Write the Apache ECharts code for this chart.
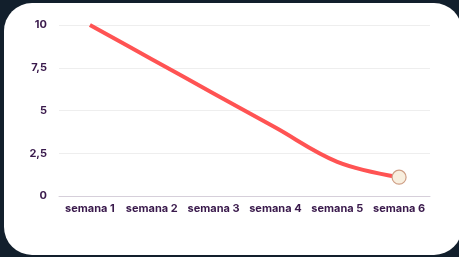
<!DOCTYPE html>
<html><head><meta charset="utf-8">
<script src="https://cdn.jsdelivr.net/npm/echarts@6/dist/echarts.min.js"></script>
<style>
html,body{margin:0;padding:0;background:#121f2c;width:459px;height:257px;overflow:hidden;}
#card{position:absolute;left:4px;top:3px;width:458px;height:252px;background:#fff;border-radius:28px;}
#chart{position:absolute;left:0;top:0;width:459px;height:257px;}
</style></head>
<body>
<div id="card"></div>
<div id="chart"></div>
<script>
const categories = ['semana 1','semana 2','semana 3','semana 4','semana 5','semana 6'];
const values = [10, 8, 6, 4, 2, 1.1];
const yTicks = [0, 2.5, 5, 7.5, 10];

const chart = echarts.init(document.getElementById('chart'), null, {renderer:'canvas'});
const txt = '#3a1a4c';
chart.setOption({
  backgroundColor: 'transparent',
  animation: false,
  grid: {left: 59, right: 29, top: 25, bottom: 61},
  xAxis: {
    type: 'category', data: categories, boundaryGap: true,
    axisLine: {show: true, lineStyle: {color: '#d6cfda', width: 1}},
    axisTick: {show: false},
    axisLabel: {color: txt, fontFamily: 'Inter', fontWeight: 700, fontSize: 11, margin: 7, interval: 0}
  },
  yAxis: {
    type: 'value', min: 0, max: 10, interval: 2.5,
    axisLine: {show: false}, axisTick: {show: false},
    splitLine: {lineStyle: {color: '#eeeeee', width: 1}},
    axisLabel: {color: txt, fontFamily: 'Inter', fontWeight: 700, fontSize: 11, margin: 12,
      formatter: v => yTicks.includes(v) ? String(v).replace('.', ',') : ''}
  },
  series: [{
    type: 'line', smooth: 0.35,
    data: values.map((v, i) => i === values.length - 1 ? {
      value: v, symbol: 'circle', symbolSize: 14,
      itemStyle: {color: '#f8efdf', borderColor: '#cf9f86', borderWidth: 1.2}
    } : {value: v, symbol: 'none'}),
    showAllSymbol: true,
    lineStyle: {color: '#ff5353', width: 4},
    itemStyle: {color: '#f8efdf'},
    z: 3
  }]
});
</script>
</body></html>
